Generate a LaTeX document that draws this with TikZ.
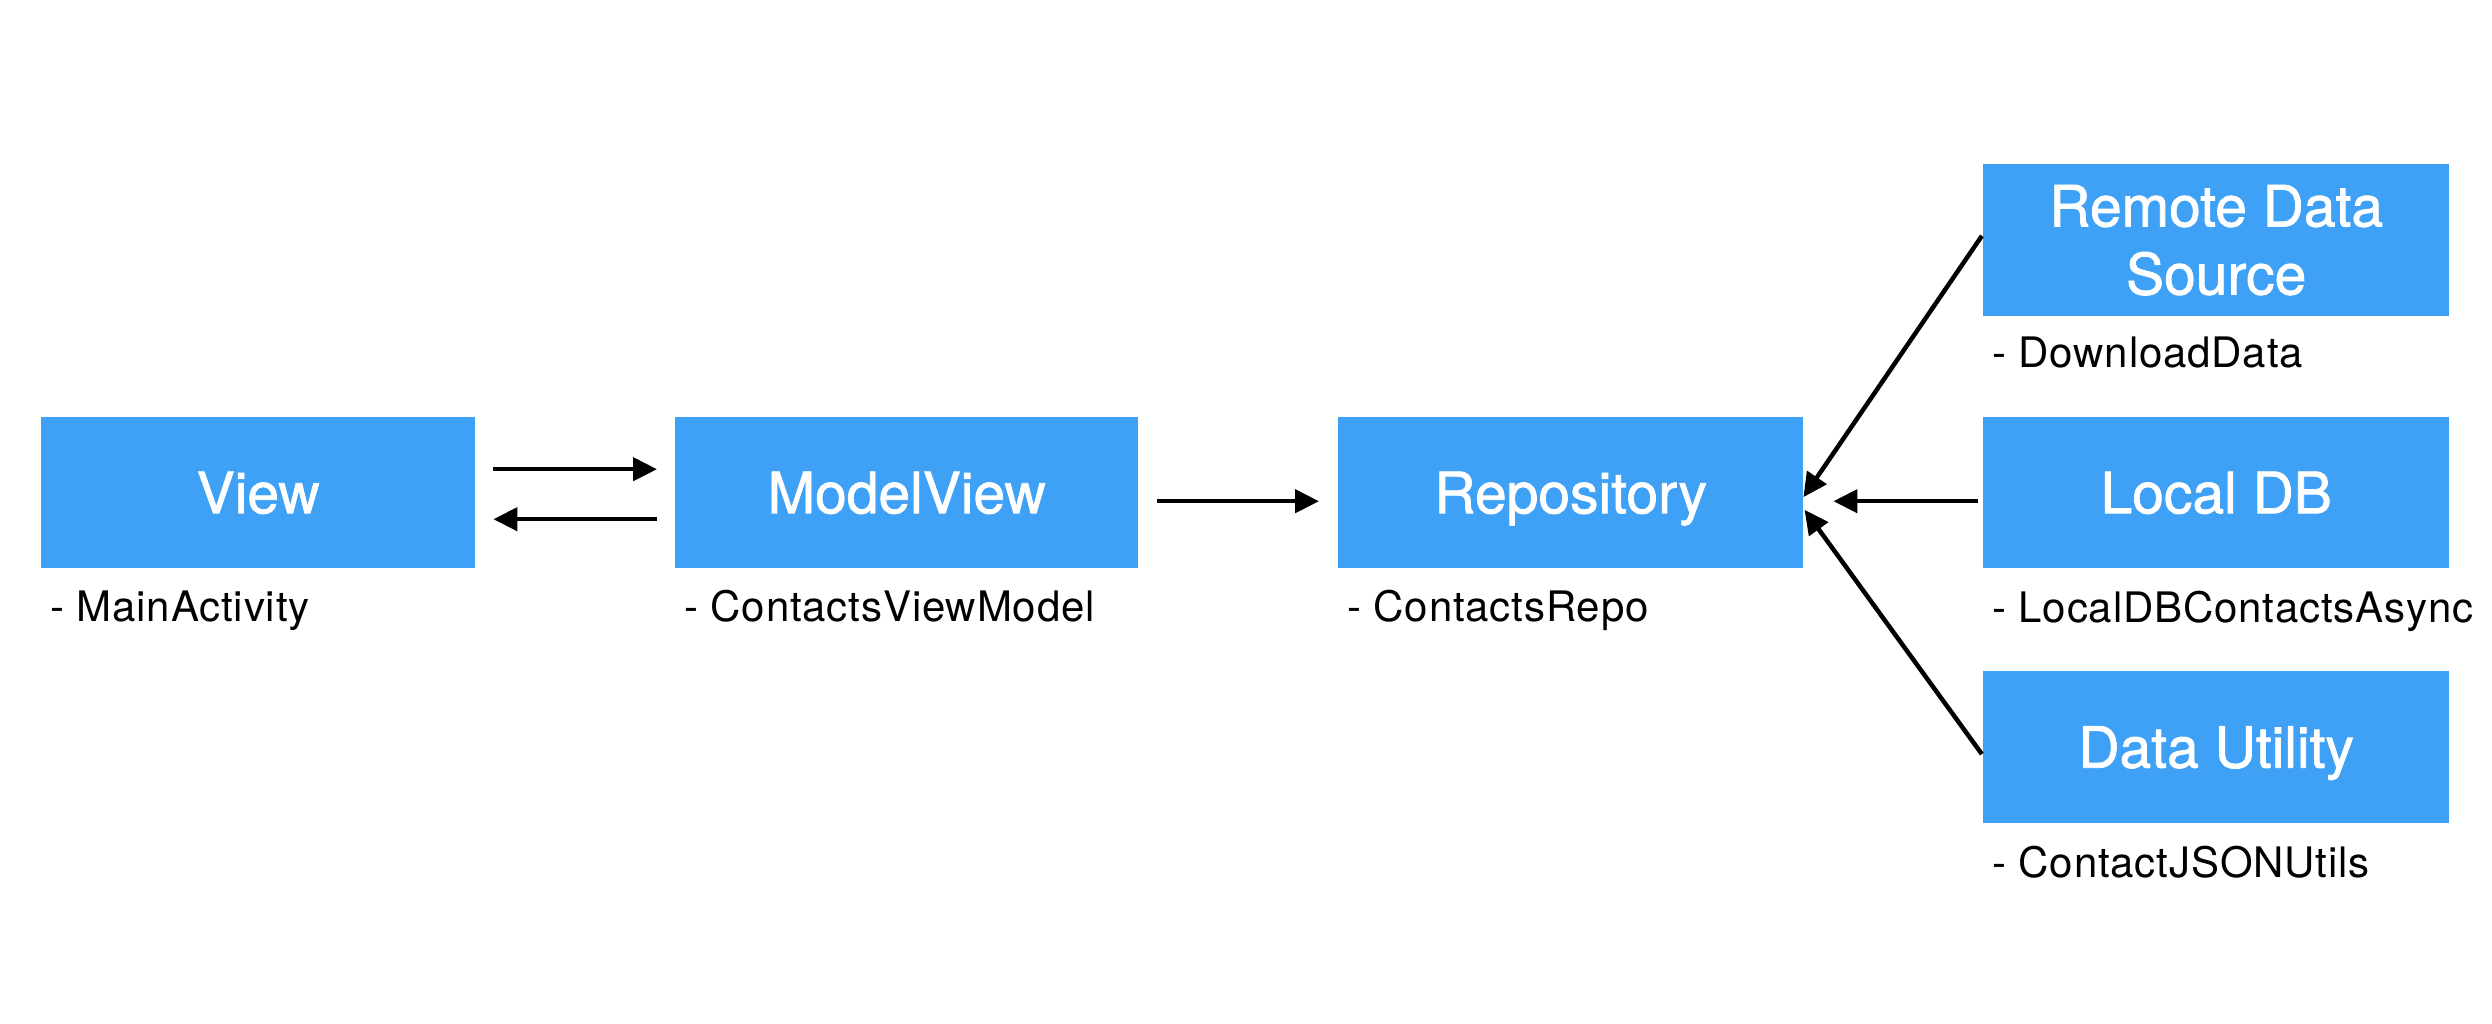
\documentclass[tikz,border=0pt]{standalone}
\usepackage{fontspec}
\setmainfont{TeX Gyre Heros}
\newfontfamily\boxfont[FakeBold=1.3]{TeX Gyre Heros}
\newfontfamily\lblfont[LetterSpace=2]{TeX Gyre Heros}
\usetikzlibrary{arrows.meta}
\definecolor{boxblue}{RGB}{62,161,246}
\tikzset{
  box/.style={fill=boxblue, draw=none, inner sep=0pt, text=white, anchor=north west,
    font=\boxfont\fontsize{57pt}{68pt}\selectfont, align=center},
  single/.style={text height=41pt, text depth=0pt},
  lbl/.style={anchor=base west, inner sep=0pt, font=\lblfont\fontsize{42pt}{50pt}\selectfont},
  arr/.style={line width=4.5pt, -{Triangle[length=24pt,width=23pt]}},
}
\begin{document}
\begin{tikzpicture}[x=1pt,y=-1pt]
\useasboundingbox[fill=white] (0,0) rectangle (2492,1024);
% boxes
\node[box,single,minimum width=434pt,minimum height=151pt] (view) at (41,417) {View};
\node[box,single,minimum width=463pt,minimum height=151pt] (mv) at (675,417) {ModelView};
\node[box,single,minimum width=465pt,minimum height=151pt] (repo) at (1338,417) {Repository};
\node[box,minimum width=466pt,minimum height=152pt] (remote) at (1983,164) {\raisebox{-4pt}{Remote Data}\\\raisebox{-4pt}{Source}};
\node[box,single,minimum width=466pt,minimum height=151pt] (local) at (1983,417) {Local DB};
\node[box,single,minimum width=466pt,minimum height=152pt] (util) at (1983,671) {Data Utility};
% labels
\node[lbl] (viewl) at ([xshift=9pt,yshift=-53pt]view.south west) {- MainActivity};
\node[lbl] (mvl) at ([xshift=9pt,yshift=-53pt]mv.south west) {- ContactsViewModel};
\node[lbl] (repol) at ([xshift=9pt,yshift=-53pt]repo.south west) {- ContactsRepo};
\node[lbl] (remotel) at ([xshift=9pt,yshift=-51pt]remote.south west) {- DownloadData};
\node[lbl] (locall) at ([xshift=9pt,yshift=-54pt]local.south west) {- LocalDBContactsAsync};
\node[lbl] (utill) at ([xshift=9pt,yshift=-54pt]util.south west) {- ContactJSONUtils};
% arrows
\draw[arr, shorten <=18pt, shorten >=18pt] ([yshift=23.5pt]view.east) -- ([yshift=23.5pt]mv.west);
\draw[arr, shorten <=18pt, shorten >=18pt] ([yshift=-26.5pt]mv.west) -- ([yshift=-26.5pt]view.east);
\draw[arr, shorten <=19pt, shorten >=19pt] ([yshift=-8.5pt]mv.east) -- ([yshift=-8.5pt]repo.west);
\draw[arr, shorten <=5pt, shorten >=30pt] ([yshift=-8.5pt]local.west) -- ([yshift=-8.5pt]repo.east);
\draw[arr, shorten <=2pt] ([yshift=6pt]remote.west) -- ([yshift=-4.5pt]repo.east);
\draw[arr, shorten <=2pt, shorten >=2pt] ([yshift=-8.5pt]util.west) -- ([yshift=-15.5pt]repo.east);
\end{tikzpicture}
\end{document}
